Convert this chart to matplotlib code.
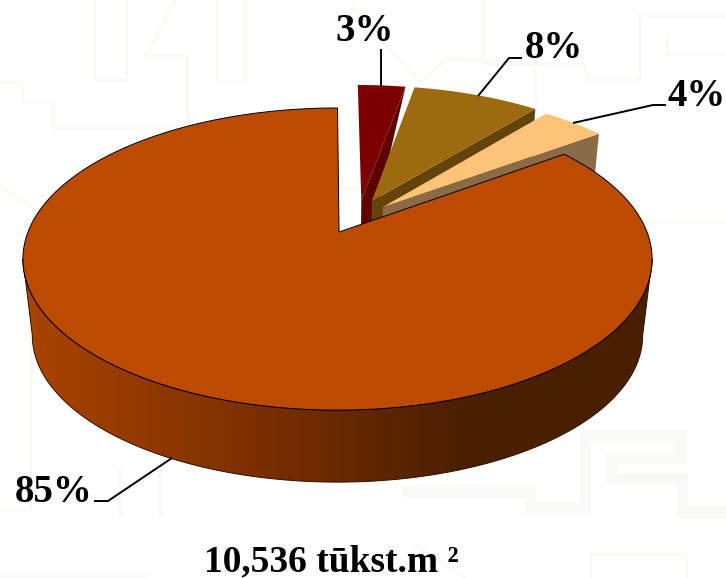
import numpy as np
import matplotlib
matplotlib.use('Agg')
import matplotlib.pyplot as plt
from matplotlib.colors import LinearSegmentedColormap

labels = ['3%', '8%', '4%', '85%']
values = [3, 8, 4, 85]
title = '10,536 tūkst.m ²'

colors = ['#7d0000', '#9c6a10', '#fdc379', '#bc4b00']
wall_colors = ['#5e0000', '#64430a', '#8a6b45']
# explode offsets in pie units (x, y), slices were not pulled quite radially
explode = [(0.08, 0.226), (0.115, 0.22), (0.151, 0.176), (0.0, 0.0)]

# perspective fitted on the picture
cx, cy = 337.5, 232
A, P, S = 309.5, 104.7, 0.179
K, vanish = 0.97, 2810


def project(x, y):
    d = 1 + S * y
    return cx + A * x / d, (cy - P * y) / d


def drop(px, py):
    # same point on the lower face of the pie
    return cx + K * (px - cx), vanish + K * (py - vanish)


fig = plt.figure(figsize=(7.26, 5.78), dpi=100)
ax = fig.add_axes([0, 0, 1, 1])

# faint background pattern
bg = '#f9f9f6'
pattern = [
    [(94, 0), (94, 79), (126, 79), (126, 0)],
    [(147, 55), (175, 0)],
    [(145, 56), (187, 56), (187, 127), (53, 127), (53, 102), (22, 102), (22, 82), (0, 82)],
    [(217, 0), (217, 81), (245, 81), (245, 0)],
    [(483, 0), (483, 63), (585, 65), (588, 80), (640, 80), (640, 15), (726, 15)],
    [(667, 35), (667, 54), (726, 54)],
    [(353, 7), (420, 83), (447, 58), (535, 63), (535, 110)],
    [(645, 222), (726, 222)], [(0, 187), (30, 205)], [(340, 188), (590, 188)],
    [(0, 510), (30, 510), (30, 300)], [(120, 515), (120, 470)], [(160, 515), (160, 470)],
    [(590, 578), (590, 554), (686, 554), (686, 578)],
    [(0, 575), (145, 575)], [(465, 578), (415, 545)],
]
for seg in pattern:
    ax.plot(*zip(*seg), color=bg, lw=2.2, zorder=1)
band = [(408, 491), (530, 491), (530, 508), (585, 508), (585, 436), (680, 436), (680, 458),
        (612, 458), (612, 478), (682, 478), (682, 512), (726, 512)]
ax.plot(*zip(*band), color=bg, lw=8, solid_joinstyle='miter', zorder=1)

# slices start at the top and go clockwise
bounds = np.cumsum([0] + values) / sum(values) * 2 * np.pi


def rim(i, n=400):
    t = np.linspace(bounds[i], bounds[i + 1], n)
    ox, oy = explode[i]
    return project(np.sin(t) + ox, np.cos(t) + oy)


z = 2
for i in range(3):
    ax_, ay_ = project(*explode[i])
    rx, ry = rim(i)
    # right cut face
    bx, by = drop(rx[-1], ry[-1])
    if i == 0:
        # in the picture this face closes to a point at the rim
        bx, by = rx[-1], ry[-1]
    abx, aby = drop(ax_, ay_)
    ax.fill([ax_, rx[-1], bx, abx], [ay_, ry[-1], by, aby], color=wall_colors[i], lw=0, zorder=z)
    ax.fill(np.r_[ax_, rx], np.r_[ay_, ry], color=colors[i], lw=0, zorder=z + 1)
    z += 2

# outer wall of the big slice, shaded left to right
rx, ry = rim(3, 800)
bx, by = drop(rx, ry)
i0, i1 = rx.argmax(), rx.argmin()
shade = LinearSegmentedColormap.from_list('wall', [(0, '#a84300'), (0.37, '#7c3000'), (0.73, '#4a1e00'), (1, '#4a1e00')])
wall_x = np.r_[rx[i0:i1 + 1], bx[i0:i1 + 1][::-1]]
wall_y = np.r_[ry[i0:i1 + 1], by[i0:i1 + 1][::-1]]
clip = ax.fill(wall_x, wall_y, facecolor='none', edgecolor='#2a1000', lw=0.7, zorder=z + 1)[0]
grad = np.clip((np.arange(726) - 30) / 600, 0, 1)[None, :]
im = ax.imshow(grad, cmap=shade, vmin=0, vmax=1, aspect='auto', extent=(0, 726, 578, 0), zorder=z)
im.set_clip_path(clip)
z += 2
# apex sits a little right of the rim centre in the picture
ax_, ay_ = project(0.005, 0)
ax.fill(np.r_[ax_, rx], np.r_[ay_, ry], facecolor=colors[3], edgecolor='black', lw=0.7, zorder=z)
z += 1

# leader lines and labels
leaders = [
    [(381, 86), (381, 49)],
    [(478, 96), (509, 58), (522, 58)],
    [(573, 123), (653, 105), (666, 105)],
    [(172, 458), (108, 501), (94, 501)],
]
label_pos = [(335, 41), (525, 58), (667, 106), (15, 502)]
font = ['Liberation Serif', 'DejaVu Serif']
for seg, pos, lab in zip(leaders, label_pos, labels):
    ax.plot(*zip(*seg), color='black', lw=1.4, zorder=z, solid_capstyle='butt')
    ax.text(pos[0], pos[1], lab, family=font, weight='bold', fontsize=28, ha='left', va='baseline', zorder=z)

ax.text(331, 571, title, family=font, weight='bold', fontsize=27, ha='center', va='baseline', zorder=z)

ax.set_xlim(0, 726)
ax.set_ylim(578, 0)
ax.axis('off')

fig.savefig('out.png', dpi=100)
